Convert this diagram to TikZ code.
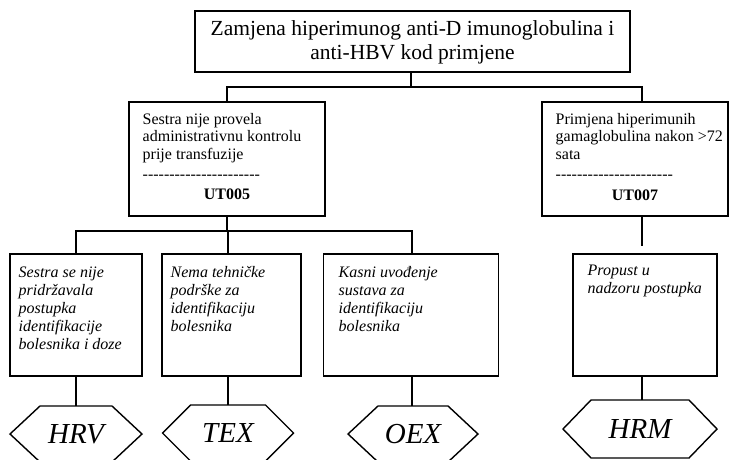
\documentclass[tikz,border=0pt]{standalone}
\usepackage{fontspec}
\setmainfont{Liberation Serif}
\usetikzlibrary{calc}
\newcommand\hy{-\kern0pt}
\newcommand\dashrow{\hy\hy\hy\hy\hy\hy\hy\hy\hy\hy\hy\hy\hy\hy\hy\hy\hy\hy\hy\hy\hy\hy}
\newcommand\hexdraw[2]{\draw ([xshift=#2]#1.north west) -- ([xshift=-#2]#1.north east) -- (#1.east) -- ([xshift=-#2]#1.south east) -- ([xshift=#2]#1.south west) -- (#1.west) -- cycle;}
\begin{document}
\begin{tikzpicture}[x=1pt,y=-1pt, line width=1.4pt,
  box/.style={draw, inner sep=0pt, outer sep=0pt},
  txt/.style={anchor=north west, inner sep=0pt, align=left, font=\fontsize{16}{17.5}\selectfont},
  itxt/.style={anchor=north west, inner sep=0pt, align=left, font=\fontsize{16}{18}\selectfont\itshape},
  code/.style={anchor=base, inner sep=0pt, font=\fontsize{16}{17.5}\selectfont\bfseries},
  dashes/.style={anchor=base west, inner sep=0pt, font=\fontsize{16}{17.5}\selectfont},
  hexlbl/.style={inner sep=0pt, outer sep=0pt, font=\fontsize{29}{30}\selectfont\itshape},
]
\useasboundingbox (0,0) rectangle (730,459);
\fill[white] (0,0) rectangle (730,459);

% top
\node[box, minimum width=435pt, minimum height=61pt] (top) at (412.5,41.5) {};
\node[align=center, inner sep=0pt, font=\fontsize{21.5}{24}\selectfont] (toptxt) at (412.5,42) {Zamjena hiperimunog anti-D imunoglobulina i\\anti-HBV kod primjene};

% second row
\node[box, minimum width=196pt, minimum height=114pt] (A) at (227,159) {};
\node[txt] (Atxt) at (142,112.5) {Sestra nije provela\\administrativnu kontrolu\\prije transfuzije};
\node[dashes] (Adash) at (142,179) {\dashrow};
\node[code] (Acode) at (227,199) {UT005};

\node[box, minimum width=186pt, minimum height=114pt] (B) at (635,159) {};
\node[txt] (Btxt) at (555,112.5) {Primjena hiperimunih\\gamaglobulina nakon >72\\sata};
\node[dashes] (Bdash) at (555,179) {\dashrow};
\node[code] (Bcode) at (635,200) {UT007};

% third row
\node[box, minimum width=132pt, minimum height=122pt] (C1) at (76,315) {};
\node[itxt] (C1txt) at (18,266) {Sestra se nije\\pridržavala\\postupka\\identifikacije\\bolesnika i doze};
\node[box, minimum width=139pt, minimum height=122pt] (C2) at (231.5,315) {};
\node[itxt] (C2txt) at (170,266) {Nema tehničke\\podrške za\\identifikaciju\\bolesnika};
\node[box, minimum width=175pt, minimum height=122pt] (C3) at (411,315) {};
\node[itxt] (C3txt) at (338,266) {Kasni uvođenje\\sustava za\\identifikaciju\\bolesnika};
\node[box, minimum width=144pt, minimum height=122pt] (C4) at (645,315) {};
\node[itxt] (C4txt) at (587,264) {Propust u\\nadzoru postupka};

% hexagons
\node[hexlbl, minimum width=132pt, minimum height=56pt] (hrv) at (76,434) {HRV};
\node[hexlbl, minimum width=131pt, minimum height=56pt] (tex) at (228,433) {TEX};
\node[hexlbl, minimum width=130pt, minimum height=56pt] (oex) at (413,434) {OEX};
\node[hexlbl, minimum width=154pt, minimum height=58pt] (hrm) at (640,429) {HRM};
\hexdraw{hrv}{30pt}
\hexdraw{tex}{28pt}
\hexdraw{oex}{30pt}
\hexdraw{hrm}{28pt}

% connectors
\coordinate (j0) at (411,87);
\coordinate (jB) at (642,87);
\coordinate (j1) at (227,231);
\coordinate (k2) at (228,231);
\coordinate (k3) at (412,231);
\coordinate (k4) at (642,246);
\draw (top.south -| j0) -- (j0);
\draw (A.north) |- (jB) -- (jB |- B.north);
\draw (A.south) -- (j1);
\draw (C1.north) |- (k3) -- (k3 |- C3.north);
\draw (k2) -- (k2 |- C2.north);
\draw (B.south -| k4) -- (k4);
\draw (C1.south) -- (hrv.north);
\draw (k2 |- C2.south) -- (tex.north);
\draw (k3 |- C3.south) -- (oex.north -| k3);
\draw (C4.south -| k4) -- (hrm.north -| k4);
\end{tikzpicture}
\end{document}
